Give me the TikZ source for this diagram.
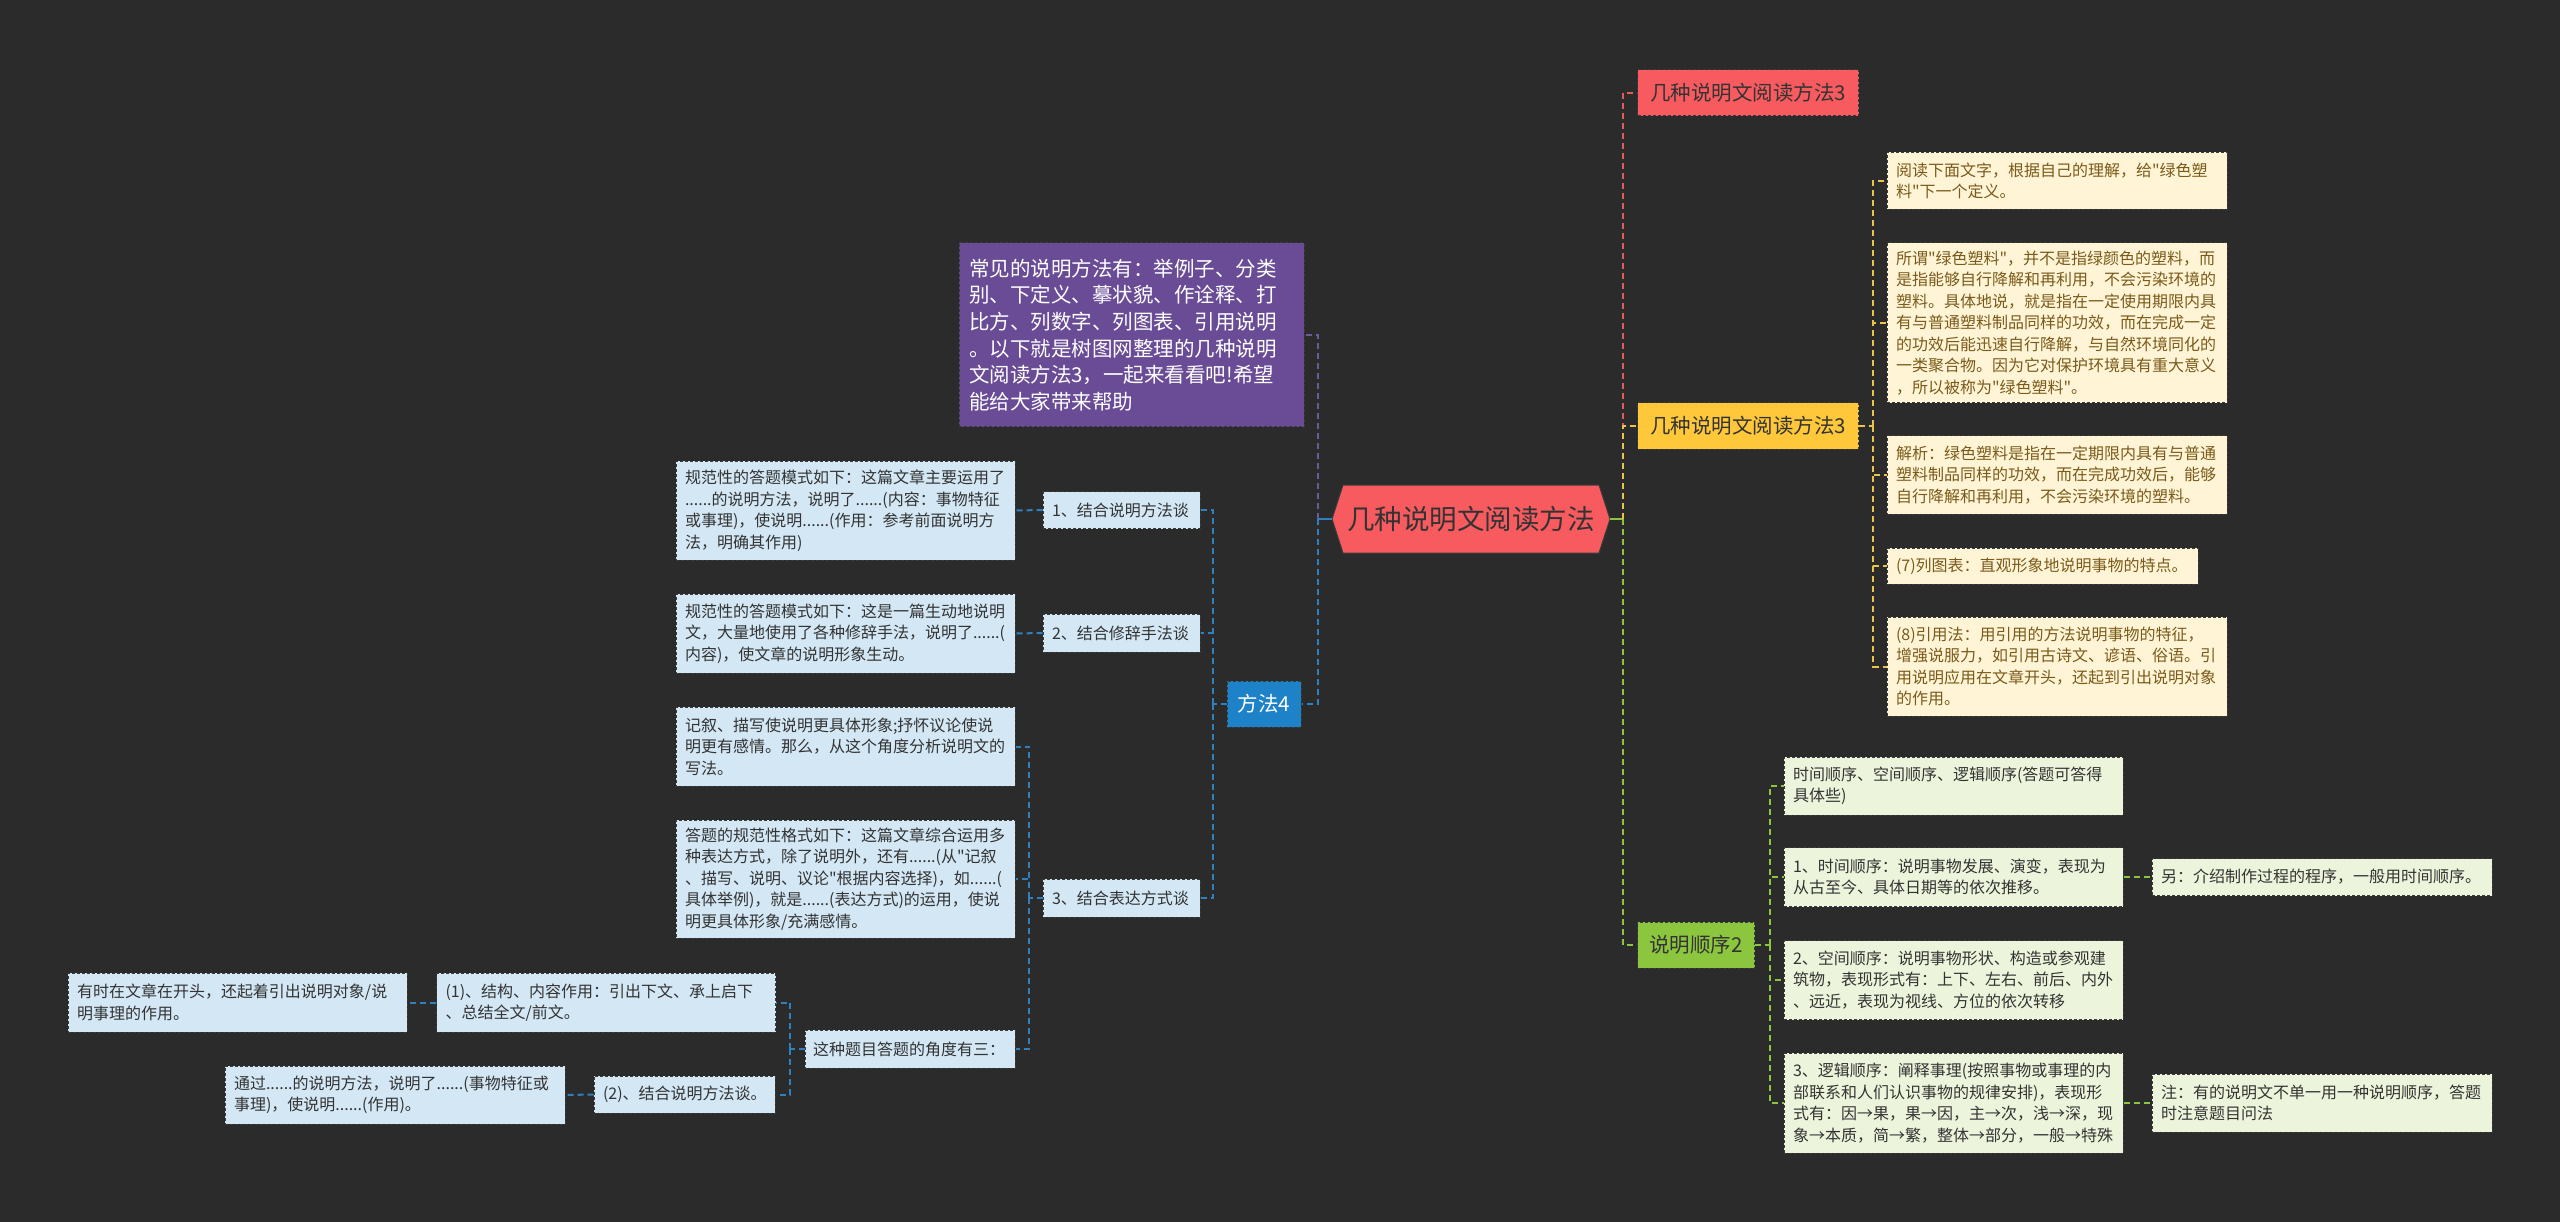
\documentclass[tikz,border=0pt]{standalone}
\usepackage{fontspec}
\newfontfamily\cjk{Noto Sans CJK SC}
\definecolor{bg}{HTML}{2B2B2B}
\definecolor{nbord}{HTML}{3A3A3A}
\definecolor{dtext}{HTML}{333333}
\definecolor{lblue}{HTML}{D3E7F5}
\definecolor{cream}{HTML}{FFF5D6}
\definecolor{brown1}{HTML}{7A5A1A}
\definecolor{lgreen}{HTML}{ECF5DB}
\definecolor{hred}{HTML}{F85B5F}
\definecolor{hyel}{HTML}{FFC83A}
\definecolor{hgrn}{HTML}{8CC63F}
\definecolor{hblue}{HTML}{1E82C8}
\definecolor{hpur}{HTML}{6A4C96}
\definecolor{cblue}{HTML}{2F80BF}
\definecolor{cpur}{HTML}{6B5B9E}
\definecolor{cred}{HTML}{E55B5B}
\definecolor{cyel}{HTML}{E8C547}
\definecolor{cgrn}{HTML}{8CC63F}
\begin{document}
\begin{tikzpicture}[x=1pt,y=-1pt,
  nb/.style={rectangle, draw=nbord, line width=1pt, dash pattern=on 3pt off 2pt, inner ysep=0pt, inner xsep=9pt, align=left},
  small/.style={font=\cjk\fontsize{16}{21.5}\selectfont},
  lbl/.style={nb, small, fill=lblue, text=dtext},
  crm/.style={nb, small, fill=cream, text=brown1},
  grn/.style={nb, small, fill=lgreen, text=dtext},
  ttl/.style={nb, font=\cjk\fontsize{20.5}{24}\selectfont, align=center, inner xsep=0pt},
  conn/.style={line width=2pt, dash pattern=on 6pt off 4pt},
  cb/.style={conn, draw=cblue},
  cp/.style={conn, draw=cpur},
  cr/.style={conn, draw=cred},
  cy/.style={conn, draw=cyel},
  cg/.style={conn, draw=cgrn},
]
\useasboundingbox (0,0) rectangle (2560,1222);
\fill[bg] (0,0) rectangle (2560,1222);

% central hexagon
\filldraw[fill=hred, draw=nbord, line width=1pt] (1332,519) -- (1343,485) -- (1599,485) -- (1610,519) -- (1599,553) -- (1343,553) -- cycle;
\node[minimum width=278, minimum height=68, inner sep=0pt, font=\cjk\fontsize{27.5}{30}\selectfont, text=dtext] (ctr) at (1471,519) {几种说明文阅读方法};

\coordinate (cL) at (1318,519);
\coordinate (cR) at (1623,519);

% right main branches
\node[ttl, fill=hred, text=dtext, minimum width=221, minimum height=46] (r1) at (1748,93) {几种说明文阅读方法3};
\node[ttl, fill=hyel, text=dtext, minimum width=221, minimum height=46] (r2) at (1748,426) {几种说明文阅读方法3};
\node[ttl, fill=hgrn, text=dtext, minimum width=117, minimum height=46] (r3) at (1696,945) {说明顺序2};

% left main branches
\node[ttl, fill=hblue, text=white, minimum width=74, minimum height=46] (m4) at (1264,704) {方法4};
\node[nb, fill=hpur, text=white, font=\cjk\fontsize{20.5}{26.7}\selectfont, text width=325, inner xsep=10pt, minimum height=184] (pur) at (1131.5,335) {常见的说明方法有：举例子、分类\\别、下定义、摹状貌、作诠释、打\\比方、列数字、列图表、引用说明\\。以下就是树图网整理的几种说明\\文阅读方法3，一起来看看吧!希望\\能给大家带来帮助};

% yellow children
\coordinate (bY) at (1873,426);
\node[crm, text width=322, minimum height=57] (y1) at (2057,181) {阅读下面文字，根据自己的理解，给"绿色塑\\料"下一个定义。};
\node[crm, text width=322, minimum height=160] (y2) at (2057,323) {所谓"绿色塑料"，并不是指绿颜色的塑料，而\\是指能够自行降解和再利用，不会污染环境的\\塑料。具体地说，就是指在一定使用期限内具\\有与普通塑料制品同样的功效，而在完成一定\\的功效后能迅速自行降解，与自然环境同化的\\一类聚合物。因为它对保护环境具有重大意义\\，所以被称为"绿色塑料"。};
\node[crm, text width=322, minimum height=78] (y3) at (2057,475) {解析：绿色塑料是指在一定期限内具有与普通\\塑料制品同样的功效，而在完成功效后，能够\\自行降解和再利用，不会污染环境的塑料。};
\node[crm, text width=293, minimum height=36] (y4) at (2042.5,566) {(7)列图表：直观形象地说明事物的特点。};
\node[crm, text width=322, minimum height=99] (y5) at (2057,666.5) {(8)引用法：用引用的方法说明事物的特征，\\增强说服力，如引用古诗文、谚语、俗语。引\\用说明应用在文章开头，还起到引出说明对象\\的作用。};

% green children
\coordinate (bG) at (1770,945);
\node[grn, text width=321, minimum height=58] (g1) at (1953.5,786) {时间顺序、空间顺序、逻辑顺序(答题可答得\\具体些)};
\node[grn, text width=321, minimum height=59] (g2) at (1953.5,877) {1、时间顺序：说明事物发展、演变，表现为\\从古至今、具体日期等的依次推移。};
\node[grn, text width=322, minimum height=37] (g2c) at (2322,877) {另：介绍制作过程的程序，一般用时间顺序。};
\node[grn, text width=321, minimum height=79] (g3) at (1953.5,980) {2、空间顺序：说明事物形状、构造或参观建\\筑物，表现形式有：上下、左右、前后、内外\\、远近，表现为视线、方位的依次转移};
\node[grn, text width=321, minimum height=100] (g4) at (1953.5,1103) {3、逻辑顺序：阐释事理(按照事物或事理的内\\部联系和人们认识事物的规律安排)，表现形\\式有：因→果，果→因，主→次，浅→深，现\\象→本质，简→繁，整体→部分，一般→特殊};
\node[grn, text width=322, minimum height=58] (g4c) at (2322,1103) {注：有的说明文不单一用一种说明顺序，答题\\时注意题目问法};

% blue children
\coordinate (bM) at (1213,704);
\node[lbl, text width=139, minimum height=37] (b1) at (1121.5,510) {1、结合说明方法谈};
\node[lbl, text width=321, minimum height=99] (b1c) at (845.5,510.5) {规范性的答题模式如下：这篇文章主要运用了\\......的说明方法，说明了......(内容：事物特征\\或事理)，使说明......(作用：参考前面说明方\\法，明确其作用)};
\node[lbl, text width=139, minimum height=38] (b2) at (1121.5,633) {2、结合修辞手法谈};
\node[lbl, text width=321, minimum height=79] (b2c) at (845.5,633.5) {规范性的答题模式如下：这是一篇生动地说明\\文，大量地使用了各种修辞手法，说明了......(\\内容)，使文章的说明形象生动。};
\node[lbl, text width=139, minimum height=38] (b3) at (1121.5,898) {3、结合表达方式谈};

\coordinate (bB) at (1029,898);
\node[lbl, text width=321, minimum height=79] (c1) at (845.5,746.5) {记叙、描写使说明更具体形象;抒怀议论使说\\明更有感情。那么，从这个角度分析说明文的\\写法。};
\node[lbl, text width=321, minimum height=118] (c2) at (845.5,879) {答题的规范性格式如下：这篇文章综合运用多\\种表达方式，除了说明外，还有......(从"记叙\\、描写、说明、议论"根据内容选择)，如......(\\具体举例)，就是......(表达方式)的运用，使说\\明更具体形象/充满感情。};
\node[lbl, text width=194, inner xsep=8pt, minimum height=38] (c3) at (910,1049) {这种题目答题的角度有三：};

\coordinate (bC) at (790,1049);
\node[lbl, text width=321, minimum height=59] (d1) at (606,1002.5) {(1)、结构、内容作用：引出下文、承上启下\\、总结全文/前文。};
\node[lbl, text width=321, minimum height=59] (d1c) at (237.5,1002.5) {有时在文章在开头，还起着引出说明对象/说\\明事理的作用。};
\node[lbl, text width=163, minimum height=37] (d2) at (684.5,1094.5) {(2)、结合说明方法谈。};
\node[lbl, text width=322, minimum height=58] (d2c) at (395,1095) {通过......的说明方法，说明了......(事物特征或\\事理)，使说明......(作用)。};

% ---- connectors ----
\draw[draw=cblue, line width=2pt] (ctr.west) -- (cL);
\draw[draw=cgrn, line width=2pt] (ctr.east) -- (cR);
\draw[cp] (cL) |- (pur.east);
\draw[cb] (cL) |- (m4.east);
\draw[cr] (cR) |- (r1.west);
\draw[cy] (cR) |- (r2.west);
\draw[cg] (cR) |- (r3.west);

\draw[cy] (r2.east) -- (bY);
\draw[cy] (bY) |- (y1.west);
\draw[cy] (bY) |- (y2.west);
\draw[cy] (bY) |- (y3.west);
\draw[cy] (bY) |- (y4.west);
\draw[cy] (bY) |- (y5.west);

\draw[cg] (r3.east) -- (bG);
\draw[cg] (bG) |- (g1.west);
\draw[cg] (bG) |- (g2.west);
\draw[cg] (bG) |- (g3.west);
\draw[cg] (bG) |- (g4.west);
\draw[cg] (g2.east) -- (g2c.west);
\draw[cg] (g4.east) -- (g4c.west);

\draw[cb] (m4.west) -- (bM);
\draw[cb] (bM) |- (b1.east);
\draw[cb] (bM) |- (b2.east);
\draw[cb] (bM) |- (b3.east);
\draw[cb] (b1.west) -- (b1c.east);
\draw[cb] (b2.west) -- (b2c.east);
\draw[cb] (b3.west) -- (bB);
\draw[cb] (bB) |- (c1.east);
\draw[cb] (bB) |- (c2.east);
\draw[cb] (bB) |- (c3.east);
\draw[cb] (c3.west) -- (bC);
\draw[cb] (bC) |- (d1.east);
\draw[cb] (bC) |- (d2.east);
\draw[cb] (d1.west) -- (d1c.east);
\draw[cb] (d2.west) -- (d2c.east);
\end{tikzpicture}
\end{document}
